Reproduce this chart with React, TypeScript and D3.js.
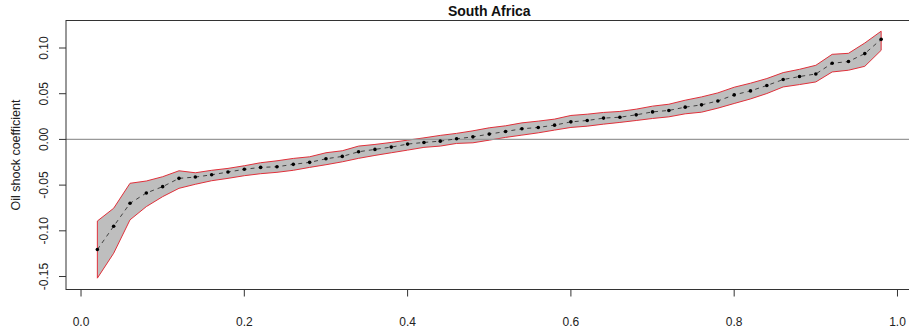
import React from 'react'
import * as d3 from 'd3'

// quantiles 0.02 .. 0.98
const tau = [
  0.02, 0.04, 0.06, 0.08, 0.1, 0.12, 0.14, 0.16, 0.18, 0.2, 0.22, 0.24, 0.26,
  0.28, 0.3, 0.32, 0.34, 0.36, 0.38, 0.4, 0.42, 0.44, 0.46, 0.48, 0.5, 0.52,
  0.54, 0.56, 0.58, 0.6, 0.62, 0.64, 0.66, 0.68, 0.7, 0.72, 0.74, 0.76, 0.78,
  0.8, 0.82, 0.84, 0.86, 0.88, 0.9, 0.92, 0.94, 0.96, 0.98
]

const coef = [
  -0.1205, -0.095, -0.0699, -0.0586, -0.0517, -0.0426, -0.0412, -0.0387,
  -0.0357, -0.0327, -0.0306, -0.0299, -0.0273, -0.0251, -0.0212, -0.0186,
  -0.0135, -0.0109, -0.0084, -0.0051, -0.0033, -0.0019, 0.0007, 0.0028, 0.0058,
  0.0087, 0.0116, 0.0131, 0.0156, 0.0192, 0.0207, 0.0233, 0.0243, 0.0269,
  0.0301, 0.0317, 0.0353, 0.0378, 0.0421, 0.0487, 0.0531, 0.059, 0.0655,
  0.0688, 0.0716, 0.0833, 0.0852, 0.0939, 0.1095
]

const upper = [
  -0.0893, -0.0753, -0.048, -0.0455, -0.0408, -0.0343, -0.0365, -0.0338,
  -0.0317, -0.0288, -0.0255, -0.0234, -0.0208, -0.019, -0.0146, -0.0124,
  -0.0073, -0.0055, -0.0033, -0.0008, 0.0017, 0.0044, 0.0066, 0.0094, 0.0127,
  0.0149, 0.0181, 0.02, 0.0222, 0.0262, 0.0276, 0.0295, 0.0306, 0.0331, 0.0364,
  0.0385, 0.0429, 0.0465, 0.0509, 0.0571, 0.0615, 0.0666, 0.0731, 0.0767,
  0.0811, 0.0931, 0.0942, 0.1055, 0.1184
]

const lower = [
  -0.1518, -0.1245, -0.088, -0.0735, -0.0626, -0.0535, -0.0491, -0.0452,
  -0.0426, -0.0397, -0.0375, -0.036, -0.0338, -0.0306, -0.0277, -0.0245,
  -0.0207, -0.0175, -0.0146, -0.0117, -0.0087, -0.0073, -0.0044, -0.0037,
  -0.0008, 0.0022, 0.0047, 0.0072, 0.0102, 0.0131, 0.0145, 0.0167, 0.0186,
  0.0207, 0.0229, 0.0247, 0.028, 0.0298, 0.0342, 0.0393, 0.0443, 0.0502,
  0.0574, 0.06, 0.0629, 0.0738, 0.0757, 0.08, 0.0975
]

const xTicks = [0, 0.2, 0.4, 0.6, 0.8, 1.0]
const yTicks = [0.1, 0.05, 0, -0.05, -0.1, -0.15]

const W = 909
const H = 330
const box = {left: 66, right: 912.5, top: 20.5, bottom: 289.5}
const font = '"Liberation Sans", Arial, sans-serif'

export default function App() {
  const x = d3.scaleLinear().domain([-0.0184, 1.0184]).range([box.left, box.right])
  const y = d3.scaleLinear().domain([-0.1642, 0.1301]).range([box.bottom, box.top])

  const rows = tau.map((t, i) => ({t, c: coef[i], hi: upper[i], lo: lower[i]}))

  const band = d3
    .area<any>()
    .x(d => x(d.t))
    .y0(d => y(d.lo))
    .y1(d => y(d.hi))
  const mid = d3
    .line<any>()
    .x(d => x(d.t))
    .y(d => y(d.c))

  return (
    <svg
      width={W}
      height={H}
      style={{position: 'absolute', left: 0, top: 0, background: '#fff'}}
      fontFamily={font}
    >
      <text x={(box.left + box.right) / 2} y={16} textAnchor="middle" fontSize={14} fontWeight="bold" fill="#111">
        South Africa
      </text>

      <path d={band(rows) || ''} fill="#bebebe" stroke="#e0303a" strokeWidth={1} strokeLinejoin="round" />
      <line x1={box.left} x2={box.right} y1={y(0)} y2={y(0)} stroke="#999" strokeWidth={1.2} />
      <path d={mid(rows) || ''} fill="none" stroke="#333" strokeWidth={0.9} strokeDasharray="4,4" />
      {rows.map(d => (
        <circle key={d.t} cx={x(d.t)} cy={y(d.c)} r={1.8} fill="#000" />
      ))}

      <rect
        x={box.left}
        y={box.top}
        width={box.right - box.left}
        height={box.bottom - box.top}
        fill="none"
        stroke="#333"
        strokeWidth={1}
      />

      {xTicks.map(t => (
        <g key={t}>
          <line x1={x(t)} x2={x(t)} y1={box.bottom} y2={box.bottom + 7} stroke="#333" />
          <text x={x(t)} y={326} textAnchor="middle" fontSize={12} fill="#222">
            {t.toFixed(1)}
          </text>
        </g>
      ))}

      {yTicks.map(t => (
        <g key={t}>
          <line x1={box.left - 7} x2={box.left} y1={y(t)} y2={y(t)} stroke="#333" />
          <text
            transform={`translate(48,${y(t)}) rotate(-90)`}
            textAnchor="middle"
            fontSize={12}
            fill="#222"
          >
            {t.toFixed(2)}
          </text>
        </g>
      ))}

      <text
        transform={`translate(20,${(box.top + box.bottom) / 2}) rotate(-90)`}
        textAnchor="middle"
        fontSize={12.5}
        fill="#222"
      >
        Oil shock coefficient
      </text>
    </svg>
  )
}
